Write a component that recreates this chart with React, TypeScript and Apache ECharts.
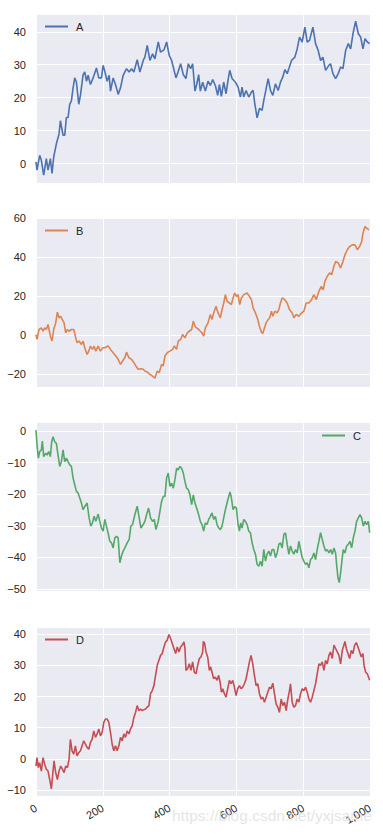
import React, { useEffect, useRef } from 'react';
import * as echarts from 'echarts';

const xTicks = [0, 200, 400, 600, 800, 1000];
const seriesNames = ['A', 'B', 'C', 'D'];
const seriesColors = ['#4c72b0', '#dd8452', '#55a868', '#c44e52'];

const aIdx = [0, 3, 11, 16, 23, 31, 36, 43, 48, 53, 61, 69, 73, 81, 86, 91, 96, 101, 106, 111, 116, 121, 128, 133, 141, 146, 151, 156, 163, 171, 181, 188, 196, 201, 206, 213, 219, 223, 231, 239, 246, 253, 261, 271, 279, 286, 293, 303, 311, 321, 326, 333, 341, 349, 356, 366, 373, 383, 391, 399, 406, 411, 419, 426, 433, 441, 449, 456, 463, 469, 476, 481,
  487, 492, 499, 507, 515, 522, 529, 537, 544, 549, 555, 562, 569, 575, 580, 587, 597, 605, 612, 617, 622, 629, 637, 645, 650, 655, 662, 669, 677, 682, 687, 695, 702, 709, 717, 725, 732, 739, 745, 752, 757, 765, 775, 782, 789, 797, 805, 812, 819, 829, 837, 845, 852, 859, 867, 877, 882, 889, 897, 905, 912, 919, 927, 935, 942, 949, 957, 965, 972, 979, 985, 992, 999];
const aVal = [0.5, -2, 2.5, 1, -3.5, 1.5, -2, 1.5, -3, 2, 6, 9, 13, 8.6, 8.6, 14, 14, 18, 19, 23, 26, 24.7, 18, 20.7, 27, 27.8, 25, 26.8, 24, 26, 29, 26, 26, 29.8, 28, 25, 26.8, 22, 26, 23.7, 21, 23, 26.8, 28.8, 27.8, 28.8, 27.8, 31.5, 27.8, 31.3, 32.3, 35.9, 31.3, 33.3, 31.8, 36.9, 33.8, 34.5, 36.9, 32.8, 31.3, 29.3, 26, 28, 30.3, 27, 25.8, 30.3, 28.8, 30.3, 22, 24,
  27, 22, 24.7, 22, 25, 23.7, 25.5, 23.7, 20.7, 24, 20.4, 24.7, 21.2, 25.3, 28.3, 25.8, 24.7, 23.2, 20.2, 23.2, 20.2, 22.2, 20.2, 21.7, 22.2, 18.2, 13.9, 16.7, 16.2, 19.2, 21.7, 25.8, 22.2, 20.7, 24.2, 22.2, 24.7, 26.3, 28.5, 27.3, 28.8, 31.3, 32.3, 34.8, 38.4, 36.9, 41.4, 36.9, 37.4, 41.4, 36.4, 34.3, 31.3, 32.3, 28.3, 29.8, 30.3, 27.3, 25.8, 27.3, 29.3, 28.8, 34.3, 36.4, 34.8, 39.4, 43.2, 39.4, 38.4, 34.8, 37.9, 36.9, 36.4];

const bIdx = [0, 3, 9, 16, 21, 26, 31, 36, 43, 48, 53, 59, 64, 69, 74, 79, 84, 89, 94, 99, 106, 113, 119, 123, 129, 136, 141, 146, 153, 158, 163, 169, 174, 179, 186, 193, 199, 206, 216, 223, 231, 239, 246, 253, 259, 266, 271, 278, 286, 293, 299, 306, 313, 321, 326, 333, 341, 349, 356, 363, 369, 376, 381, 386, 393, 401, 409, 414, 421, 426, 433, 439, 446, 453, 459, 466, 471, 476, 481,
  487, 492, 497, 502, 507, 515, 522, 527, 532, 539, 545, 552, 557, 562, 567, 572, 579, 585, 590, 595, 600, 605, 610, 615, 622, 632, 639, 645, 650, 657, 664, 669, 675, 679, 684, 689, 695, 700, 705, 709, 715, 722, 727, 732, 737, 745, 752, 759, 767, 772, 779, 787, 795, 802, 809, 817, 825, 832, 839, 847, 854, 860, 865, 872, 879, 885, 892, 897, 905, 912, 919, 925, 932, 939, 947, 955, 962, 969, 975, 979, 985, 990, 997];
const bVal = [0.3, -2.2, 2.9, 3.7, 2, 3.7, 2.9, 5.5, -0.5, -3, 2.9, 6.3, 11.8, 8.9, 9.7, 8, 6.3, 1.2, 2.9, 2, 2.9, 2.9, -1.4, -3.9, -3, -4.8, -3, -6.5, -9.9, -8.2, -5.6, -7.3, -5.6, -8.2, -5.6, -8.2, -6.5, -6.5, -5.6, -7.3, -9, -10.7, -12.4, -15, -13.3, -11.6, -8.7, -11.6, -12.4, -14.1, -15.8, -17.5, -17.2, -17.5, -18.4, -18.9, -20.1, -21, -22.1, -18.4, -19.2, -15, -15.8, -10.7, -9, -8.2, -7.3, -5.6, -7.3, -3, -2.2, 0.3, -1.4, 1.2, 2, 2.9, 7.2, 4.6, 3.7,
  2.9, 2, 1.2, -0.5, 3.7, 6.3, 10.6, 8, 11.4, 14.8, 11.4, 8.9, 13.1, 16.5, 20.8, 17.4, 16.5, 15.7, 19.1, 21.6, 19.9, 20.8, 15.7, 19.1, 20.8, 21.6, 19.9, 18.2, 14, 11.4, 8, 4.6, 1.5, 0.9, 3.7, 6.3, 8, 8.9, 12.3, 9.7, 12.3, 11.4, 13.1, 16.5, 19.1, 18.2, 16.5, 13.1, 11.4, 8.9, 10.6, 9.7, 11.4, 12.3, 16.5, 16.5, 18.2, 20.8, 18.2, 22.5, 25, 23.3, 27.6, 30.2, 31.9, 31, 35.3, 37.8, 37, 34.4, 37.8, 41.2, 43.8, 45.5, 46.3, 46.3, 43.8, 45.5, 48, 52.3, 55.7, 54.9, 54];

const cIdx = [0, 3, 7, 11, 16, 19, 23, 29, 33, 38, 43, 47, 51, 56, 61, 66, 71, 76, 81, 86, 91, 96, 101, 106, 111, 116, 121, 126, 131, 136, 141, 146, 153, 159, 164, 169, 174, 179, 186, 191, 196, 201, 206, 211, 217, 221, 226, 231, 236, 241, 246, 251, 256, 261, 266, 273, 279, 284, 289, 296, 303, 309, 314, 321, 326, 331, 337, 343, 349, 354, 359, 366, 371, 376, 381, 386, 391, 396, 401, 406, 411, 416, 421, 426, 431, 436, 441, 446, 451, 456, 461, 466, 471, 476, 481,
  487, 492, 497, 502, 507, 512, 517, 522, 527, 532, 537, 542, 547, 552, 557, 562, 567, 572, 577, 581, 585, 590, 595, 600, 605, 609, 613, 617, 622, 627, 632, 637, 642, 647, 652, 657, 662, 667, 672, 677, 682, 687, 692, 697, 702, 707, 712, 717, 722, 727, 732, 737, 742, 747, 752, 757, 762, 767, 772, 777, 782, 787, 792, 797, 802, 807, 812, 817, 822, 827, 832, 837, 842, 847, 852, 857, 862, 867, 872, 877, 882, 887, 892, 897, 900, 904, 908, 912, 917, 920, 925, 930, 935, 940, 945, 950, 955, 960, 965, 970, 975, 980, 985, 990, 995, 999];
const cVal = [0.3, -4.4, -8.6, -6.5, -6, -3.2, -8.1, -7, -7.6, -6.5, -8.1, -3.4, -1.8, -3.4, -3.9, -7.6, -11.2, -9.7, -6, -9.7, -8.6, -9.7, -10.7, -11.2, -14.9, -17, -19.1, -19.6, -21.2, -22.8, -24.9, -23.9, -22.8, -27.5, -30.1, -29.1, -27, -28.6, -26.3, -28.6, -30.7, -31.7, -28, -30.1, -32.8, -34.9, -35.4, -37, -33.8, -33.3, -33.8, -41.7, -39.6, -38, -37, -35.4, -34.3, -30.1, -29.6, -26.5, -23.8, -27.5, -30.7, -29.6, -28.6, -26.5, -24.4, -27.5, -28.6, -28, -31.2, -28.6, -25.4, -22.3, -20.7, -20.7, -14.9, -13.3, -17.5, -16.5, -18.1, -15.4, -11.8, -12.3, -11.2, -11.8, -13.3, -16, -18.1, -18.6, -20.2, -23.3, -20.2, -22.8, -24.4,
  -26.5, -28.6, -29.6, -31.7, -29.1, -29.6, -28, -27, -25.9, -28, -27, -29.6, -30.7, -31.2, -30.1, -27.5, -24.9, -22.8, -20.7, -19.3, -21.2, -24.9, -23.9, -24.4, -29.6, -31.7, -29.1, -30.7, -28, -28.6, -29.6, -31.7, -32.2, -35.4, -37.5, -39, -42.2, -42.8, -41.2, -42.8, -37.5, -41.2, -39, -38, -39.6, -37.5, -37.5, -40.1, -38.6, -35.9, -35.4, -37, -32.8, -32.2, -35.9, -39, -36.4, -38, -39, -37.5, -38.6, -34.9, -37.5, -40.1, -41.2, -42.2, -41.7, -43.3, -40.7, -40.1, -38.6, -40.7, -37.5, -34.9, -32.2, -34.3, -36.4, -38, -37.5, -38.6, -37.5, -39, -37, -38.6, -42.2, -46.4, -48, -44.9, -40.1, -37.5, -38.6, -36.4, -35.9, -34.9, -37, -33.8, -31.7, -28.6, -27.5, -26.5, -27.5, -30.1, -28.6, -29.6, -28.6, -32.2];

const dIdx = [0, 3, 7, 11, 16, 21, 26, 31, 36, 41, 46, 51, 54, 59, 64, 69, 74, 79, 84, 89, 94, 99, 103, 108, 113, 118, 123, 128, 133, 138, 143, 148, 153, 158, 163, 168, 173, 178, 183, 188, 193, 198, 203, 208, 213, 218, 223, 228, 233, 238, 243, 248, 253, 258, 263, 268, 273, 278, 283, 288, 293, 298, 303, 308, 313, 318, 323, 328, 333, 338, 343, 348, 353, 358, 363, 368, 373, 378, 383, 388, 393, 398, 403, 408, 413, 418, 423, 428, 433, 438, 443, 446, 449, 454, 459, 464, 469, 474, 479, 484, 489, 494, 499,
  501, 505, 509, 514, 519, 523, 527, 532, 537, 542, 547, 552, 555, 559, 564, 569, 574, 579, 584, 589, 594, 599, 604, 609, 614, 619, 624, 629, 634, 639, 644, 649, 654, 659, 664, 669, 674, 679, 684, 689, 694, 699, 704, 709, 714, 719, 724, 729, 734, 739, 744, 749, 754, 759, 762, 767, 772, 777, 782, 787, 792, 797, 802, 807, 812, 817, 822, 827, 832, 837, 842, 847, 852, 857, 862, 867, 872, 877, 882, 887, 892, 897, 902, 907, 912, 917, 922, 925, 929, 934, 939, 944, 949, 954, 959, 964, 969, 974, 979, 982, 987, 992, 999];
const dVal = [-2.3, 0.4, -2.8, -1.2, -3.9, 0.4, -1.7, -3.3, -3.9, -6.6, -9.6, -3.9, -0.6, -4.4, -6.6, -3.9, -2.3, -3.3, -4.4, -2.3, -2.8, -0.1, 6.3, 2.6, 1.5, 4.2, 1, 2, 2.6, 4.2, 5.8, 4.7, 3.7, 3.1, 5.3, 6.3, 9, 6.9, 8, 9.6, 7.4, 8.5, 11.7, 12.8, 12.8, 11.7, 8.5, 4.7, 2.6, 4.2, 2.6, 4.2, 6.9, 5.8, 8, 6.9, 9, 8, 9.6, 10.6, 13.3, 14.9, 17.1, 15.5, 16, 15.5, 15.8, 16, 16.6, 17.1, 20.9, 21.9, 23.5, 26.8, 30, 31.6, 33.2, 33.8, 35.9, 37.5, 38.1, 39.9, 38.6, 37, 35.4, 33.8, 35.9, 34.3, 35.9, 36.5, 37.5, 35.4, 28.4, 28.9, 30.5, 28.4, 31.1, 27.8, 27.3, 30, 32.2, 32.7, 34.3,
  37.7, 37, 34.3, 32.7, 28.4, 29.5, 27.8, 25.7, 26.2, 25.2, 26.8, 24.1, 21.4, 22.5, 20.9, 19.8, 22.5, 25.2, 24.1, 25.2, 23, 20.3, 22.5, 23.5, 22.5, 23, 24.1, 25.7, 28.4, 31.1, 33.2, 30.5, 26.8, 23.5, 24.1, 20.9, 19.2, 19.8, 18.2, 19.8, 21.4, 23, 22.5, 24.3, 20.9, 17.6, 16.6, 14.9, 19.2, 17.1, 18.2, 15.5, 19.2, 21.9, 24.1, 18.2, 16.6, 17.1, 19.2, 18.2, 20.9, 22.5, 21.9, 23, 21.4, 19.2, 18.2, 19.8, 21.9, 24.1, 27.3, 30.5, 30, 31.1, 28.4, 31.6, 30.5, 33.2, 34.3, 32.2, 36.5, 35.4, 34.3, 33.2, 30.5, 34.8, 36.5, 37.7, 35.4, 33.8, 32.2, 34.8, 33.8, 36.5, 37.3, 35.9, 34.3, 32.7, 33.8, 30, 27.8, 27.3, 25.2];

const idxList = [aIdx, bIdx, cIdx, dIdx];
const valList = [aVal, bVal, cVal, dVal];
const yMins = [-5.9, -26.6, -50.8, -11.9];
const yMaxs = [45.4, 60.1, 2.7, 42.3];
const watermark = 'https://blog.csdn.net/yxjsame';

const gridTops = [14, 218, 422.5, 627];
const gridHeight = 169;
const legendPos = [
  { left: 45, top: 21 },
  { left: 45, top: 225 },
  { left: 322, top: 430 },
  { left: 45, top: 634 },
];

const fontFamily = '"Liberation Sans", Arial, "DejaVu Sans", sans-serif';
const textColor = '#262626';

function fmt(v: number) {
  if (Math.abs(v - Math.round(v)) > 1e-6) return '';
  const r = Math.round(v);
  return r < 0 ? '\u2212' + Math.abs(r) : String(r);
}

export default function App() {
  const ref = useRef<HTMLDivElement>(null);
  useEffect(() => {
    document.body.style.margin = '0';
    const chart = echarts.init(ref.current!, null, { renderer: 'svg' });
    const grids = gridTops.map((t) => ({
      left: 36,
      right: 13,
      top: t,
      height: gridHeight,
      show: true,
      backgroundColor: '#eaeaf2',
      borderWidth: 0,
    }));
    const xAxes = gridTops.map((_, i) => ({
      type: 'value',
      gridIndex: i,
      min: xTicks[0],
      max: xTicks[xTicks.length - 1],
      interval: 200,
      axisLine: { show: false },
      axisTick: { show: false },
      splitLine: { show: true, lineStyle: { color: '#ffffff', width: 1 } },
      axisLabel: {
        show: i === 3,
        rotate: 30,
        margin: 11,
        fontSize: 11,
        color: textColor,
        fontFamily,
      },
    }));
    const yAxes = gridTops.map((_, i) => ({
      type: 'value',
      gridIndex: i,
      min: yMins[i],
      max: yMaxs[i],
      axisLine: { show: false },
      axisTick: { show: false },
      splitLine: { show: true, lineStyle: { color: '#ffffff', width: 1 } },
      axisLabel: {
        margin: 10,
        fontSize: 11,
        color: textColor,
        fontFamily,
        formatter: (v: number) => fmt(v),
      },
    }));
    const series = seriesNames.map((name, i) => ({
      name,
      type: 'line',
      xAxisIndex: i,
      yAxisIndex: i,
      symbol: 'none',
      showSymbol: false,
      data: idxList[i].map((x, k) => [x, valList[i][k]]),
      lineStyle: { color: seriesColors[i], width: 1.6 },
      itemStyle: { color: seriesColors[i] },
    }));
    const legends = seriesNames.map((name, i) => ({
      data: [name],
      left: legendPos[i].left,
      top: legendPos[i].top,
      padding: 0,
      icon: 'rect',
      itemWidth: 23,
      itemHeight: 2,
      selectedMode: false,
      textStyle: { fontSize: 11, color: textColor, fontFamily, padding: [0, 0, 0, 3] },
    }));
    chart.setOption({
      animation: false,
      backgroundColor: '#ffffff',
      grid: grids,
      xAxis: xAxes,
      yAxis: yAxes,
      series,
      legend: legends,
      graphic: [
        {
          type: 'text',
          left: 172,
          top: 807,
          z: 100,
          style: {
            text: watermark,
            font: '15.5px "Liberation Sans", Arial, sans-serif',
            fill: 'rgba(222,222,222,0.8)',
          },
        },
      ],
    });
    return () => chart.dispose();
  }, []);
  return <div ref={ref} style={{ width: 383, height: 834 }} />;
}
